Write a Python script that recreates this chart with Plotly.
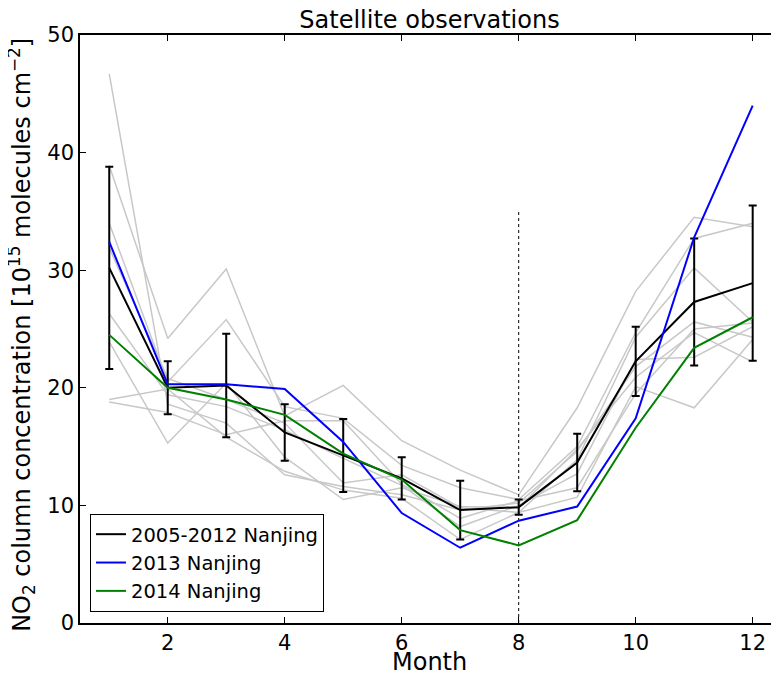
import plotly.graph_objects as go

months = list(range(1, 13))

mean_0512 = [30.2, 20.0, 20.2, 16.2, 14.25, 12.3, 9.6, 9.85, 13.65, 22.25, 27.3, 28.9]
std_0512 = [8.6, 2.25, 4.4, 2.4, 3.1, 1.8, 2.5, 0.65, 2.45, 2.95, 5.4, 6.6]
nj_2013 = [32.4, 20.3, 20.3, 19.9, 15.4, 9.35, 6.4, 8.7, 9.9, 17.4, 32.8, 44.0]
nj_2014 = [24.5, 20.0, 19.0, 17.7, 14.4, 12.2, 7.9, 6.6, 8.75, 16.6, 23.4, 26.0]

gray_2005 = [46.7, 18.6, 17.0, 12.6, 11.6, 10.9, 9.6, 10.2, 14.6, 21.8, 25.6, 24.3]
gray_2006 = [38.9, 24.2, 30.1, 17.6, 20.2, 15.5, 13.0, 10.9, 18.3, 28.2, 34.5, 33.7]
gray_2007 = [34.0, 20.5, 25.8, 18.4, 17.4, 13.4, 11.5, 10.5, 15.0, 24.7, 32.7, 34.0]
gray_2008 = [31.9, 20.8, 19.0, 17.0, 11.9, 12.6, 9.8, 9.4, 13.9, 24.3, 30.2, 25.6]
gray_2009 = [26.3, 19.4, 18.4, 16.4, 14.0, 11.7, 8.2, 10.0, 12.7, 22.4, 22.6, 25.2]
gray_2010 = [23.9, 15.3, 20.4, 14.1, 10.5, 11.5, 9.9, 9.8, 14.8, 20.9, 24.7, 22.2]
gray_2011 = [19.0, 19.9, 15.8, 12.9, 11.3, 10.6, 7.1, 9.4, 10.7, 20.1, 18.3, 24.1]
gray_2012 = [18.8, 17.9, 16.0, 17.2, 17.2, 11.8, 8.9, 10.4, 11.5, 19.5, 25.0, 25.5]
gray_years = [gray_2005, gray_2006, gray_2007, gray_2008, gray_2009, gray_2010, gray_2011, gray_2012]

vline_x = [8, 8]
vline_y = [0, 35]

x_ticks = [2, 4, 6, 8, 10, 12]
y_ticks = [0, 10, 20, 30, 40, 50]

FONT = "DejaVu Sans"

fig = go.Figure()

for g in gray_years:
    fig.add_trace(go.Scatter(x=months, y=g, mode="lines",
                             line=dict(color="#c8c8c8", width=1.5),
                             showlegend=False, hoverinfo="skip"))

fig.add_trace(go.Scatter(x=vline_x, y=vline_y, mode="lines",
                         line=dict(color="black", width=1, dash="dot"),
                         showlegend=False, hoverinfo="skip"))

fig.add_trace(go.Scatter(x=months, y=mean_0512, mode="lines", name="2005-2012 Nanjing",
                         line=dict(color="black", width=2),
                         error_y=dict(type="data", array=std_0512, visible=True,
                                      color="black", thickness=2, width=4)))
fig.add_trace(go.Scatter(x=months, y=nj_2013, mode="lines", name="2013 Nanjing",
                         line=dict(color="#0000ff", width=2)))
fig.add_trace(go.Scatter(x=months, y=nj_2014, mode="lines", name="2014 Nanjing",
                         line=dict(color="#008000", width=2)))

# right-side inward ticks without spine
fig.add_trace(go.Scatter(x=[None], y=[None], yaxis="y2", showlegend=False, hoverinfo="skip"))

fig.update_layout(
    width=771, height=669,
    margin=dict(l=72, r=0, t=27, b=54),
    plot_bgcolor="white", paper_bgcolor="white",
    font=dict(family=FONT, color="black", size=21),
    title=dict(text="Satellite observations", x=0.5, xanchor="center", xref="paper",
               y=0.982, yanchor="middle", font=dict(size=24, family=FONT)),
    xaxis=dict(range=[0.5, 12.45], tickvals=x_ticks, ticks="inside", ticklen=6,
               tickcolor="black", showline=True, linecolor="black", linewidth=1.5,
               mirror="ticks", showgrid=False, zeroline=False, automargin=False,
               tickfont=dict(size=21)),
    yaxis=dict(range=[0, 50], tickvals=y_ticks, ticks="inside", ticklen=6,
               tickcolor="black", showline=True, linecolor="black", linewidth=1.5,
               showgrid=False, zeroline=False, automargin=False,
               tickfont=dict(size=21)),
    yaxis2=dict(range=[0, 50], tickvals=y_ticks, ticks="inside", ticklen=6,
                tickcolor="black", showline=False, showticklabels=False,
                showgrid=False, zeroline=False, overlaying="y", side="right",
                automargin=False),
    legend=dict(x=0.0143, y=0.0187, xanchor="left", yanchor="bottom",
                bordercolor="black", borderwidth=1, bgcolor="white",
                font=dict(size=19.5, family=FONT), tracegroupgap=0),
    annotations=[
        dict(text="Month", xref="paper", yref="paper", x=0.5, y=-0.067,
             xanchor="center", yanchor="middle", showarrow=False,
             font=dict(size=24, family=FONT)),
        dict(text="NO<sub>2</sub> column concentration [10<sup>15</sup> molecules cm<sup>−2</sup>]",
             xref="paper", yref="paper", x=-0.083, y=0.49, textangle=-90,
             xanchor="center", yanchor="middle", showarrow=False,
             font=dict(size=24, family=FONT)),
    ],
)

fig.write_html("out.html")
